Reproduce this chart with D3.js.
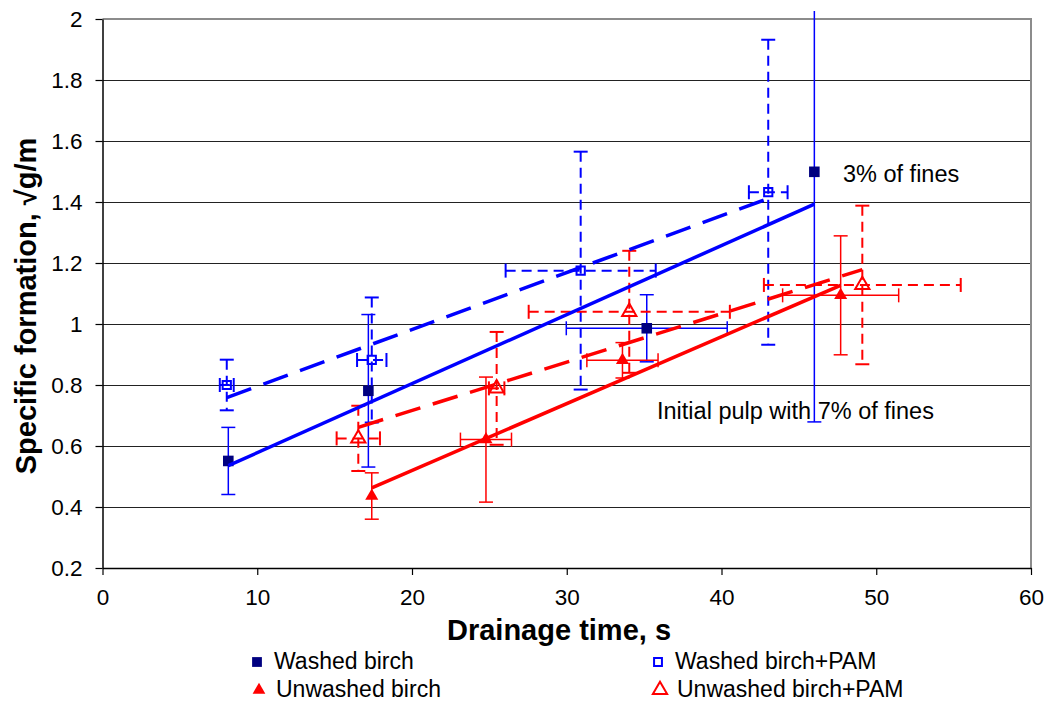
<!DOCTYPE html>
<html><head><meta charset="utf-8">
<script src="https://cdn.jsdelivr.net/npm/d3@7"></script>
<style>
body{margin:0;background:#fff}
text{font-family:"Liberation Sans",Arial,Helvetica,sans-serif;fill:#000}
</style>
</head><body>
<svg id="c" width="1058" height="702"></svg>
<script>
// ---------- data ----------
const xTicks = [0, 10, 20, 30, 40, 50, 60];
const yTicks = [0.2, 0.4, 0.6, 0.8, 1, 1.2, 1.4, 1.6, 1.8, 2];
const yTickLabels = ["0.2","0.4","0.6","0.8","1","1.2","1.4","1.6","1.8","2"];

const washedX    = [8.13, 17.18, 35.17, 46.0];
const washedY    = [0.551, 0.781, 0.986, 1.499];
const washedXErr = [0, 0, 5.2, 0];
const washedYErr = [0.11, 0.25, 0.11, 0.82];

const washedPamX    = [8.03, 17.4, 30.9, 43.02];
const washedPamY    = [0.80, 0.882, 1.175, 1.432];
const washedPamXErr = [0.45, 0.95, 4.85, 1.25];
const washedPamYErr = [0.083, 0.205, 0.39, 0.5];

const unwashedX    = [17.4, 24.78, 33.6, 47.7];
const unwashedY    = [0.436, 0.621, 0.881, 1.094];
const unwashedXErr = [0, 1.65, 2.3, 3.75];
const unwashedYErr = [0.076, 0.205, 0.058, 0.195];

const unwashedPamX    = [16.53, 25.47, 34.04, 49.1];
const unwashedPamY    = [0.625, 0.789, 1.04, 1.128];
const unwashedPamXErr = [1.4, 0.5, 6.5, 6.36];
const unwashedPamYErr = [0.107, 0.185, 0.2, 0.26];

const seriesNames = ["Washed birch", "Washed birch+PAM", "Unwashed birch", "Unwashed birch+PAM"];
const notes = ["3% of fines", "Initial pulp with 7% of fines"];

// ---------- layout ----------
const L = 102.5, R = 1031, T = 19, B = 568;
const svg = d3.select("#c");
const x = d3.scaleLinear().domain([0, 60]).range([L, R]);
const y = d3.scaleLinear().domain([0.2, 2]).range([B, T]);

const series = [
  {name: seriesNames[0], xs: washedX, ys: washedY, xe: washedXErr, ye: washedYErr, marker: "square", fill: "#000080", stroke: "none", line: "#0000ff", dashed: false, size: 112, legSize: 96},
  {name: seriesNames[1], xs: washedPamX, ys: washedPamY, xe: washedPamXErr, ye: washedPamYErr, marker: "square", fill: "none", stroke: "#0000ff", line: "#0000ff", dashed: true, size: 68, legSize: 62},
  {name: seriesNames[2], xs: unwashedX, ys: unwashedY, xe: unwashedXErr, ye: unwashedYErr, marker: "triangle", fill: "#ff0000", stroke: "none", line: "#ff0000", dashed: false, size: 74, legSize: 70},
  {name: seriesNames[3], xs: unwashedPamX, ys: unwashedPamY, xe: unwashedPamXErr, ye: unwashedPamYErr, marker: "triangle", fill: "none", stroke: "#ff0000", line: "#ff0000", dashed: true, size: 88, legSize: 88}
];

// gridlines
svg.append("g").selectAll("line").data(yTicks.slice(1, -1)).join("line")
  .attr("x1", L).attr("x2", R)
  .attr("y1", d => Math.round(y(d)) + 0.5).attr("y2", d => Math.round(y(d)) + 0.5)
  .attr("stroke", "#222").attr("stroke-width", 1);

// plot border top/right
svg.append("path")
  .attr("d", `M${L},${T}H${R}V${B}`)
  .attr("fill", "none").attr("stroke", "#8c8c8c").attr("stroke-width", 2);

// axes
const xAxis = d3.axisBottom(x).tickValues(xTicks).tickSize(7).tickSizeOuter(0).tickPadding(14);
const gx = svg.append("g").attr("transform", `translate(0,${B})`).call(xAxis);
gx.select(".domain").attr("stroke", "#000").attr("stroke-width", 1.5);
gx.selectAll(".tick line").attr("stroke", "#000").attr("stroke-width", 1.2);
gx.selectAll(".tick text").attr("font-size", 22.5).attr("font-family", "Liberation Sans, Arial, sans-serif").attr("fill", "#000");

const yAxis = d3.axisLeft(y).tickValues(yTicks).tickFormat((d, i) => yTickLabels[i]).tickSize(7).tickSizeOuter(0).tickPadding(13);
const gy = svg.append("g").attr("transform", `translate(${L},0)`).call(yAxis);
gy.select(".domain").attr("stroke", "#000").attr("stroke-width", 1.5);
gy.selectAll(".tick line").attr("stroke", "#000").attr("stroke-width", 1.2);
gy.selectAll(".tick text").attr("font-size", 22.5).attr("font-family", "Liberation Sans, Arial, sans-serif").attr("fill", "#000");

// axis titles
svg.append("text").attr("x", 559).attr("y", 640)
  .attr("text-anchor", "middle").attr("font-size", 29).attr("font-weight", "bold")
  .text("Drainage time, s");
svg.append("text").attr("transform", `translate(36,306) rotate(-90)`)
  .attr("text-anchor", "middle").attr("font-size", 29).attr("font-weight", "bold")
  .text("Specific formation, √g/m");

// clip for error bars (slightly beyond the plot top)
svg.append("clipPath").attr("id", "clipE").append("rect")
  .attr("x", 0).attr("y", T - 8).attr("width", 1058).attr("height", B - T + 8);

function markerPath(type, size) {
  return d3.symbol().type(type === "square" ? d3.symbolSquare : d3.symbolTriangle).size(size)();
}

// error bars
series.forEach(s => {
  const g = svg.append("g").attr("clip-path", "url(#clipE)")
    .attr("stroke", s.line).attr("stroke-width", s.dashed ? 2 : 1.5).attr("fill", "none");
  const dash = s.dashed ? "10,6" : null;
  const cap = 7;
  s.xs.forEach((xv, i) => {
    const cx = x(xv), cy = y(s.ys[i]);
    if (s.ye[i] > 0) {
      const y1 = y(s.ys[i] + s.ye[i]), y2 = y(s.ys[i] - s.ye[i]);
      g.append("line").attr("x1", cx).attr("x2", cx).attr("y1", y1).attr("y2", y2).attr("stroke-dasharray", dash);
      g.append("line").attr("x1", cx - cap).attr("x2", cx + cap).attr("y1", y1).attr("y2", y1);
      g.append("line").attr("x1", cx - cap).attr("x2", cx + cap).attr("y1", y2).attr("y2", y2);
    }
    if (s.xe[i] > 0) {
      const x1 = x(xv - s.xe[i]), x2 = x(xv + s.xe[i]);
      g.append("line").attr("x1", x1).attr("x2", x2).attr("y1", cy).attr("y2", cy).attr("stroke-dasharray", dash);
      g.append("line").attr("x1", x1).attr("x2", x1).attr("y1", cy - cap).attr("y2", cy + cap);
      g.append("line").attr("x1", x2).attr("x2", x2).attr("y1", cy - cap).attr("y2", cy + cap);
    }
  });
});

// markers
series.forEach(s => {
  svg.append("g").selectAll("path").data(s.xs.map((xv, i) => [xv, s.ys[i]])).join("path")
    .attr("transform", d => `translate(${x(d[0])},${y(d[1])})`)
    .attr("d", markerPath(s.marker, s.size))
    .attr("fill", s.fill === "none" ? "none" : s.fill)
    .attr("stroke", s.stroke === "none" ? "none" : s.stroke)
    .attr("stroke-width", 2);
});

// linear trend lines (least squares over data range)
series.forEach(s => {
  const mx = d3.mean(s.xs), my = d3.mean(s.ys);
  let sxy = 0, sxx = 0;
  s.xs.forEach((xv, i) => { sxy += (xv - mx) * (s.ys[i] - my); sxx += (xv - mx) ** 2; });
  const k = sxy / sxx, b = my - k * mx;
  const x0 = d3.min(s.xs), x1 = d3.max(s.xs);
  svg.append("line")
    .attr("x1", x(x0)).attr("y1", y(k * x0 + b))
    .attr("x2", x(x1)).attr("y2", y(k * x1 + b))
    .attr("stroke", s.line).attr("stroke-width", 3.5)
    .attr("stroke-dasharray", s.dashed ? "26,13" : null);
});

// annotations
svg.append("text").attr("x", 843).attr("y", 182).attr("font-size", 23.5).text(notes[0]);
svg.append("text").attr("x", 657).attr("y", 419).attr("font-size", 23.5).text(notes[1]);

// legend
const legPos = [[257, 662], [658, 662], [259, 690], [660, 690]];
series.forEach((s, i) => {
  const [lx, ly] = legPos[i];
  svg.append("path")
    .attr("transform", `translate(${lx},${ly})`)
    .attr("d", markerPath(s.marker, s.legSize))
    .attr("fill", s.fill === "none" ? "none" : s.fill)
    .attr("stroke", s.stroke === "none" ? "none" : s.stroke)
    .attr("stroke-width", 2);
  svg.append("text").attr("x", lx + 17).attr("y", ly + 7).attr("font-size", 23).text(s.name);
});
</script>
</body></html>
